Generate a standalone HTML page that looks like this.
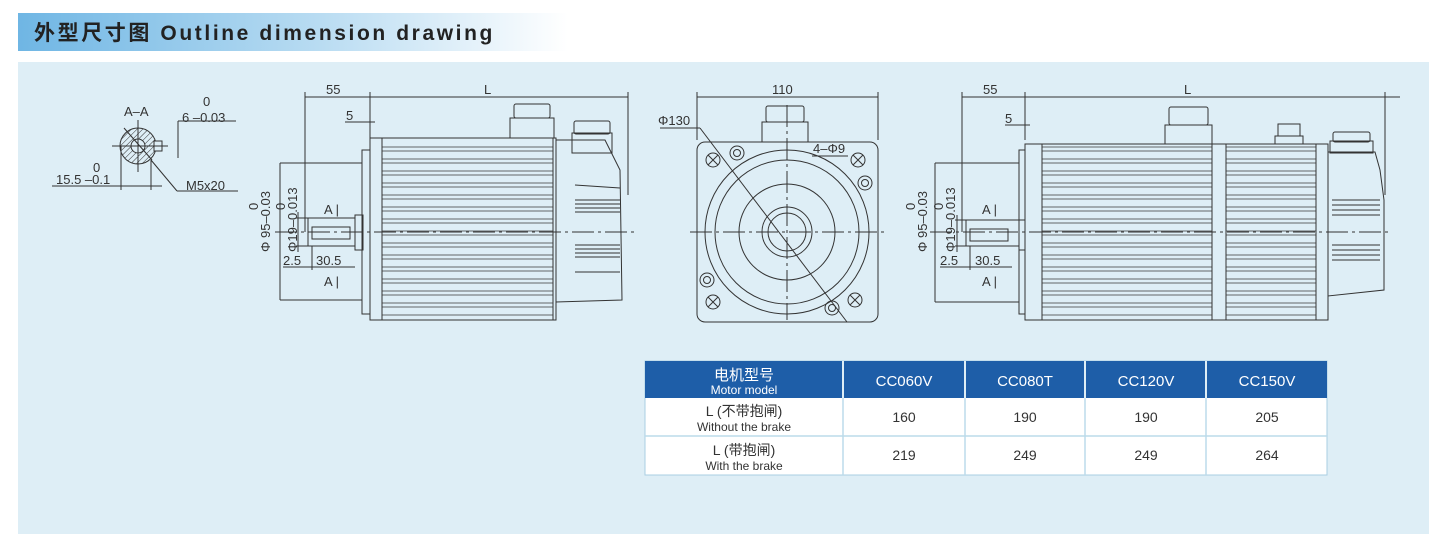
<!DOCTYPE html>
<html><head><meta charset="utf-8"><style>
body{margin:0;width:1450px;height:552px;background:#fff;overflow:hidden;font-family:"Liberation Sans","Noto Sans CJK SC",sans-serif}
svg{position:absolute;left:0;top:0}
</style></head><body>
<svg width="1450" height="552" viewBox="0 0 1450 552" xmlns="http://www.w3.org/2000/svg" font-family="Liberation Sans, Noto Sans CJK SC, sans-serif">
<defs>
<linearGradient id="hg" x1="0" x2="1"><stop offset="0" stop-color="#6fb6e4"/><stop offset="0.55" stop-color="#b9dcf2"/><stop offset="1" stop-color="#ffffff"/></linearGradient>
<pattern id="fins" width="10" height="12" patternUnits="userSpaceOnUse"><line x1="0" y1="3" x2="10" y2="3" stroke="#444" stroke-width="0.8"/><line x1="0" y1="7" x2="10" y2="7" stroke="#444" stroke-width="0.8"/></pattern>
<pattern id="hatch" width="4" height="4" patternUnits="userSpaceOnUse" patternTransform="rotate(45)"><line x1="0" y1="0" x2="0" y2="4" stroke="#333" stroke-width="1"/></pattern>
</defs>
<rect x="18" y="13" width="550" height="38" fill="url(#hg)"/>
<text x="34" y="40" font-size="21" font-weight="bold" fill="#222" letter-spacing="2.6">外型尺寸图 Outline dimension drawing</text>
<rect x="18" y="62" width="1411" height="472" fill="#deeef6"/>

<g stroke="#333" fill="none" stroke-width="1">
<circle cx="138" cy="146" r="18" fill="url(#hatch)"/>
<circle cx="138" cy="146" r="7" fill="#deeef6"/>
<rect x="154" y="141" width="8" height="10" fill="#deeef6"/>
<line x1="112" y1="146" x2="168" y2="146"/><line x1="138" y1="120" x2="138" y2="172"/>
<line x1="124" y1="128" x2="152" y2="160"/>
<line x1="178" y1="121" x2="236" y2="121"/><line x1="178" y1="121" x2="178" y2="158"/>
<line x1="121" y1="146" x2="121" y2="190"/><line x1="151" y1="160" x2="151" y2="190"/>
<line x1="52" y1="186" x2="162" y2="186"/>
<line x1="151" y1="160" x2="177" y2="191"/><line x1="177" y1="191" x2="238" y2="191"/>

<line x1="305" y1="97" x2="628" y2="97"/>
<line x1="305" y1="92" x2="305" y2="232"/><line x1="370" y1="92" x2="370" y2="140"/><line x1="628" y1="92" x2="628" y2="195"/>
<line x1="345" y1="122" x2="375" y2="122"/>
<rect x="362" y="150" width="8" height="164"/>
<rect x="370" y="138" width="186" height="182"/>
<rect x="382" y="140" width="171" height="178" fill="url(#fins)" stroke="none"/>
<line x1="382" y1="138" x2="382" y2="320"/><line x1="553" y1="138" x2="553" y2="320"/>
<rect x="355" y="215" width="8" height="35"/>
<rect x="308" y="218" width="47" height="28"/>
<rect x="312" y="227" width="38" height="12"/>
<line x1="280" y1="163" x2="362" y2="163"/><line x1="280" y1="300" x2="362" y2="300"/>
<line x1="280" y1="163" x2="280" y2="300"/>
<line x1="296" y1="218" x2="308" y2="218"/><line x1="296" y1="246" x2="308" y2="246"/><line x1="298" y1="212" x2="298" y2="252"/>
<line x1="283" y1="267" x2="355" y2="267"/><line x1="312" y1="246" x2="312" y2="270"/>
<rect x="510" y="118" width="44" height="20"/><rect x="514" y="104" width="36" height="14" rx="2"/>
<path d="M556 140 L605 140 L610 150 L620 170 L622 300 L556 302 Z"/>
<rect x="572" y="133" width="40" height="20"/><rect x="574" y="121" width="36" height="13" rx="2"/>
<path d="M575 185 L620 188 M575 200 L620 200 M575 204 L620 204 M575 208 L620 208 M575 212 L620 212 M575 245 L620 245 M575 249 L620 249 M575 253 L620 253 M575 257 L620 257 M575 272 L620 272"/>
<line x1="275" y1="232" x2="634" y2="232" stroke-dasharray="22,4,3,4"/>

<line x1="697" y1="97" x2="878" y2="97"/><line x1="697" y1="92" x2="697" y2="140"/><line x1="878" y1="92" x2="878" y2="140"/>
<rect x="697" y="142" width="181" height="180" rx="8"/>
<rect x="762" y="122" width="46" height="20"/><rect x="766" y="106" width="38" height="16" rx="2"/>
<circle cx="787" cy="232" r="82"/><circle cx="787" cy="232" r="72"/><circle cx="787" cy="232" r="48"/>
<circle cx="787" cy="232" r="25"/><circle cx="787" cy="232" r="19"/>
<line x1="690" y1="232" x2="885" y2="232" stroke-dasharray="22,4,3,4"/>
<line x1="787" y1="105" x2="787" y2="320" stroke-dasharray="22,4,3,4"/>
<line x1="660" y1="128" x2="700" y2="128"/><line x1="700" y1="128" x2="847" y2="322"/>
<g>
<circle cx="713" cy="160" r="7"/><path d="M708 155l10 10M718 155l-10 10"/>
<circle cx="737" cy="153" r="7"/><circle cx="737" cy="153" r="3.5"/>
<circle cx="858" cy="160" r="7"/><path d="M853 155l10 10M863 155l-10 10"/>
<circle cx="865" cy="183" r="7"/><circle cx="865" cy="183" r="3.5"/>
<circle cx="707" cy="280" r="7"/><circle cx="707" cy="280" r="3.5"/>
<circle cx="713" cy="302" r="7"/><path d="M708 297l10 10M718 297l-10 10"/>
<circle cx="832" cy="308" r="7"/><circle cx="832" cy="308" r="3.5"/>
<circle cx="855" cy="300" r="7"/><path d="M850 295l10 10M860 295l-10 10"/>
</g>
<line x1="812" y1="156" x2="848" y2="156"/>

<line x1="962" y1="97" x2="1400" y2="97"/>
<line x1="962" y1="92" x2="962" y2="232"/><line x1="1025" y1="92" x2="1025" y2="140"/><line x1="1385" y1="92" x2="1385" y2="195"/>
<line x1="1005" y1="125" x2="1030" y2="125"/>
<rect x="1019" y="150" width="6" height="164"/>
<rect x="1025" y="144" width="303" height="176"/>
<rect x="1042" y="146" width="170" height="172" fill="url(#fins)" stroke="none"/>
<rect x="1226" y="146" width="90" height="172" fill="url(#fins)" stroke="none"/>
<line x1="1042" y1="144" x2="1042" y2="320"/><line x1="1212" y1="144" x2="1212" y2="320"/><line x1="1226" y1="144" x2="1226" y2="320"/><line x1="1316" y1="144" x2="1316" y2="320"/>
<rect x="1019" y="220" width="6" height="30"/>
<rect x="966" y="220" width="53" height="26"/>
<rect x="970" y="229" width="38" height="12"/>
<line x1="935" y1="163" x2="1019" y2="163"/><line x1="935" y1="302" x2="1019" y2="302"/><line x1="935" y1="163" x2="935" y2="302"/>
<line x1="955" y1="220" x2="966" y2="220"/><line x1="955" y1="246" x2="966" y2="246"/><line x1="957" y1="215" x2="957" y2="252"/>
<line x1="940" y1="267" x2="1012" y2="267"/><line x1="970" y1="246" x2="970" y2="270"/>
<rect x="1165" y="125" width="47" height="19"/><rect x="1169" y="107" width="39" height="18" rx="2"/>
<rect x="1275" y="136" width="28" height="8"/><rect x="1278" y="124" width="22" height="12"/>
<path d="M1328 152 L1375 152 L1380 170 L1384 200 L1384 290 L1328 296 Z"/>
<rect x="1330" y="141" width="43" height="12"/><rect x="1333" y="132" width="37" height="10" rx="2"/>
<path d="M1332 200 L1380 200 M1332 205 L1380 205 M1332 210 L1380 210 M1332 215 L1380 215 M1332 245 L1380 245 M1332 250 L1380 250 M1332 255 L1380 255 M1332 260 L1380 260"/>
<line x1="930" y1="232" x2="1392" y2="232" stroke-dasharray="22,4,3,4"/>
</g>

<g font-size="13" fill="#333">
<text x="124" y="116">A–A</text><text x="203" y="106">0</text><text x="182" y="122">6 –0.03</text>
<text x="93" y="172">0</text><text x="56" y="184">15.5 –0.1</text><text x="186" y="190">M5x20</text>
<text x="326" y="94">55</text><text x="484" y="94">L</text><text x="346" y="120">5</text>
<text x="324" y="214">A |</text><text x="324" y="286">A |</text>
<text x="283" y="265">2.5</text><text x="316" y="265">30.5</text>
<text transform="translate(270,252) rotate(-90)">Φ 95–0.03</text><text transform="translate(258,210) rotate(-90)">0</text>
<text transform="translate(297,252) rotate(-90)">Φ19–0.013</text><text transform="translate(285,210) rotate(-90)">0</text>
<text x="772" y="94">110</text><text x="658" y="125">Φ130</text><text x="813" y="153">4–Φ9</text>
<text x="983" y="94">55</text><text x="1184" y="94">L</text><text x="1005" y="123">5</text>
<text x="982" y="214">A |</text><text x="982" y="286">A |</text>
<text x="940" y="265">2.5</text><text x="975" y="265">30.5</text>
<text transform="translate(927,252) rotate(-90)">Φ 95–0.03</text><text transform="translate(915,210) rotate(-90)">0</text>
<text transform="translate(955,252) rotate(-90)">Φ19–0.013</text><text transform="translate(943,210) rotate(-90)">0</text>
</g>

<rect x="645" y="361" width="682" height="114" fill="#fff" stroke="#a9cfe3"/>
<rect x="645" y="361" width="682" height="37" fill="#1e5ea8"/>
<g stroke="#deeef6" stroke-width="2"><line x1="843" y1="361" x2="843" y2="398"/><line x1="965" y1="361" x2="965" y2="398"/><line x1="1085" y1="361" x2="1085" y2="398"/><line x1="1206" y1="361" x2="1206" y2="398"/></g>
<g stroke="#bcdbea" stroke-width="1.5"><line x1="645" y1="436" x2="1327" y2="436"/><line x1="843" y1="398" x2="843" y2="475"/><line x1="965" y1="398" x2="965" y2="475"/><line x1="1085" y1="398" x2="1085" y2="475"/><line x1="1206" y1="398" x2="1206" y2="475"/></g>
<g fill="#fff" text-anchor="middle">
<text x="744" y="380" font-size="15">电机型号</text><text x="744" y="394" font-size="12">Motor model</text>
<text x="904" y="386" font-size="15">CC060V</text><text x="1025" y="386" font-size="15">CC080T</text><text x="1146" y="386" font-size="15">CC120V</text><text x="1267" y="386" font-size="15">CC150V</text>
</g>
<g fill="#333" text-anchor="middle">
<text x="744" y="416" font-size="14">L (不带抱闸)</text><text x="744" y="431" font-size="12">Without the brake</text>
<text x="744" y="455" font-size="14">L (带抱闸)</text><text x="744" y="470" font-size="12">With the brake</text>
<g font-size="14"><text x="904" y="422">160</text><text x="1025" y="422">190</text><text x="1146" y="422">190</text><text x="1267" y="422">205</text>
<text x="904" y="460">219</text><text x="1025" y="460">249</text><text x="1146" y="460">249</text><text x="1267" y="460">264</text></g>
</g>
</svg>
</body></html>
